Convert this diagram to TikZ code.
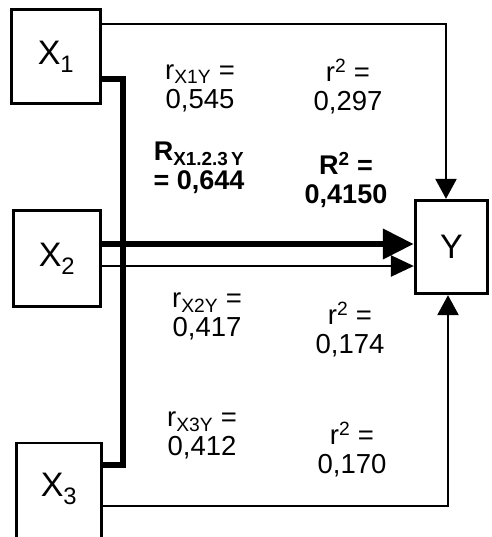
\documentclass[tikz,border=0pt]{standalone}
\usepackage{fontspec}
\setmainfont{Liberation Sans}
\usetikzlibrary{arrows.meta}
\begin{document}
\begin{tikzpicture}[x=1pt,y=-1pt,
  box/.style={draw, line width=2.8pt, rectangle, inner sep=0pt, fill=white},
  lbl/.style={font=\fontsize{34}{36}\selectfont},
  val/.style={align=center, inner sep=0pt, font=\fontsize{27.5}{29}\selectfont},
  valb/.style={val, font=\fontsize{27}{29.5}\selectfont\bfseries},
  thin line/.style={line width=2.4pt},
  heavy line/.style={line width=6.8pt},
  bigtip/.style={-{Triangle[length=31pt,width=29pt]}},
  midtip/.style={-{Triangle[length=23pt,width=21pt]}},
  vtip/.style={-{Triangle[length=20pt,width=21pt]}}]
\useasboundingbox (0,0) rectangle (491,537);
\clip (0,0) rectangle (491,537);
% boxes
\node[box, minimum width=89pt, minimum height=94pt, lbl] (x1) at (56,56.5) {X\textsubscript{1}};
\node[box, minimum width=87.5pt, minimum height=96.5pt, lbl] (x2) at (57,258.5) {X\textsubscript{2}};
\node[box, minimum width=85.5pt, minimum height=127pt] (x3) at (59,506.5) {};
\node[lbl] (x3l) at (59,489) {X\textsubscript{3}};
\node[box, minimum width=72.5pt, minimum height=93.5pt, lbl] (y) at (451.5,247) {Y};
% helper coordinates
\coordinate (t1) at (0,24);
\coordinate (k1) at (0,79);
\coordinate (k3) at (0,465);
\coordinate (b3) at (0,506);
\coordinate (h1) at (0,244);
\coordinate (h2) at (0,266);
\coordinate (vl) at (123,0);
\coordinate (vr1) at (446,0);
\coordinate (vr2) at (448,0);
% connectors
\draw[thin line, vtip] (x1.east |- t1) -| (y.north -| vr1);
\draw[thin line, vtip] (x3.east |- b3) -| (y.south -| vr2);
\draw[heavy line, bigtip] (x2.east |- h1) -- (y.west |- h1);
\draw[thin line, midtip] (x2.east |- h2) -- (y.west |- h2);
\draw[heavy line] (x1.east |- k1) -| (k3 -| vl) -- (x3.east |- k3);
% values
\node[val] (v1) at (200,88) {r\textsubscript{X1Y} =\\0,545};
\node[val] (v2) at (348,87) {r\textsuperscript{2} =\\0,297};
\node[valb] (v3) at (199,168) {R\textsubscript{X1.2.3\,Y}\\= 0,644};
\node[valb] (v4) at (346,180) {R\textsuperscript{2} =\\0,4150};
\node[val] (v5) at (207,316) {r\textsubscript{X2Y} =\\0,417};
\node[val] (v6) at (350,330) {r\textsuperscript{2} =\\0,174};
\node[val] (v7) at (202,435) {r\textsubscript{X3Y} =\\0,412};
\node[val] (v8) at (352,450) {r\textsuperscript{2} =\\0,170};
\end{tikzpicture}
\end{document}
